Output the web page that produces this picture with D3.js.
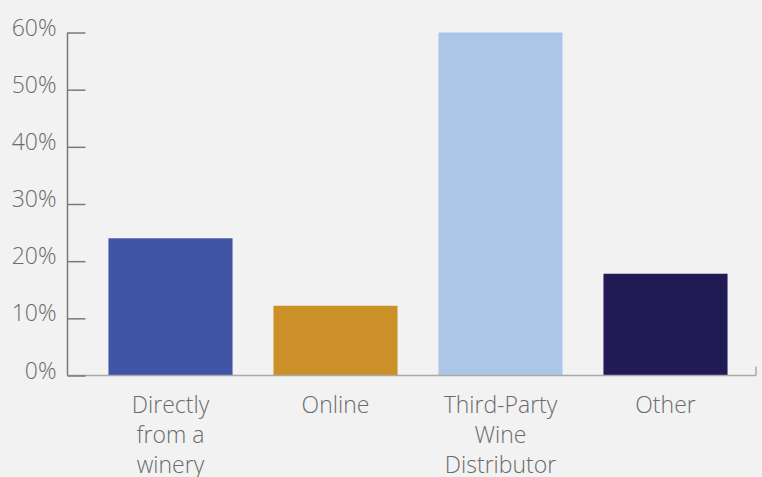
<!DOCTYPE html>
<html>
<head>
<meta charset="utf-8">
<script src="https://cdn.jsdelivr.net/npm/d3@7"></script>
<style>
html,body{margin:0;padding:0;background:#f2f2f2;}
svg{display:block;}
text{font-family:"Open Sans",sans-serif;font-weight:300;fill:#6b6b6b;font-size:23px;}
</style>
</head>
<body>
<svg id="chart" width="762" height="477"></svg>
<script>
const categories = ["Directly from a winery", "Online", "Third-Party Wine Distributor", "Other"];
const labelLines = [["Directly", "from a", "winery"], ["Online"], ["Third-Party", "Wine", "Distributor"], ["Other"]];
const values = [24, 12.2, 60, 17.8];
const colors = ["#4055a5", "#cc9029", "#abc6e7", "#201b54"];
const yTicks = [0, 10, 20, 30, 40, 50, 60];

const svg = d3.select("#chart");
const axisLeftX = 67.5, axisRightX = 756, y0 = 375.5, yTop = 32.5;

const x = d3.scaleBand().domain(categories).range([88, 748]).paddingInner(0.248).paddingOuter(0.124);
const y = d3.scaleLinear().domain([0, 60]).range([y0, yTop]);

// bars
svg.selectAll("rect.bar").data(categories).join("rect")
  .attr("class", "bar")
  .attr("x", d => x(d))
  .attr("width", x.bandwidth())
  .attr("y", (d, i) => y(values[i]))
  .attr("height", (d, i) => y0 - y(values[i]))
  .attr("fill", (d, i) => colors[i]);

// x axis line
svg.append("line").attr("x1", axisLeftX).attr("x2", axisRightX).attr("y1", y0).attr("y2", y0)
  .attr("stroke", "#a9a9a9").attr("stroke-width", 1.5);
svg.append("line").attr("x1", axisRightX).attr("x2", axisRightX).attr("y1", y0).attr("y2", y0 - 9)
  .attr("stroke", "#a9a9a9").attr("stroke-width", 1.5);

// y axis
const yAxis = d3.axisRight(y).tickValues(yTicks).tickSize(18).tickFormat(d => d + "%");
const gy = svg.append("g").attr("transform", `translate(${axisLeftX},0)`).call(yAxis);
gy.select(".domain").remove();
gy.selectAll(".tick line").attr("stroke", "#7a7a7a").attr("stroke-width", 1.5);
gy.selectAll(".tick text")
  .attr("x", -11).attr("dy", null).attr("y", 2.5)
  .attr("text-anchor", "end")
  .style("font-family", "'Open Sans',sans-serif").style("font-weight", 300)
  .style("font-size", "23px").style("fill", "#6b6b6b");
svg.append("line").attr("x1", axisLeftX).attr("x2", axisLeftX).attr("y1", yTop).attr("y2", y0)
  .attr("stroke", "#7a7a7a").attr("stroke-width", 1.5);

// x labels
const lab = svg.selectAll("text.xl").data(categories).join("text")
  .attr("class", "xl")
  .attr("text-anchor", "middle")
  .attr("x", d => x(d) + x.bandwidth() / 2)
  .attr("y", 413);
lab.each(function(d, i) {
  const t = d3.select(this);
  labelLines[i].forEach((ln, j) => {
    t.append("tspan").attr("x", x(d) + x.bandwidth() / 2).attr("y", 413 + j * 30).text(ln);
  });
});
</script>
</body>
</html>
